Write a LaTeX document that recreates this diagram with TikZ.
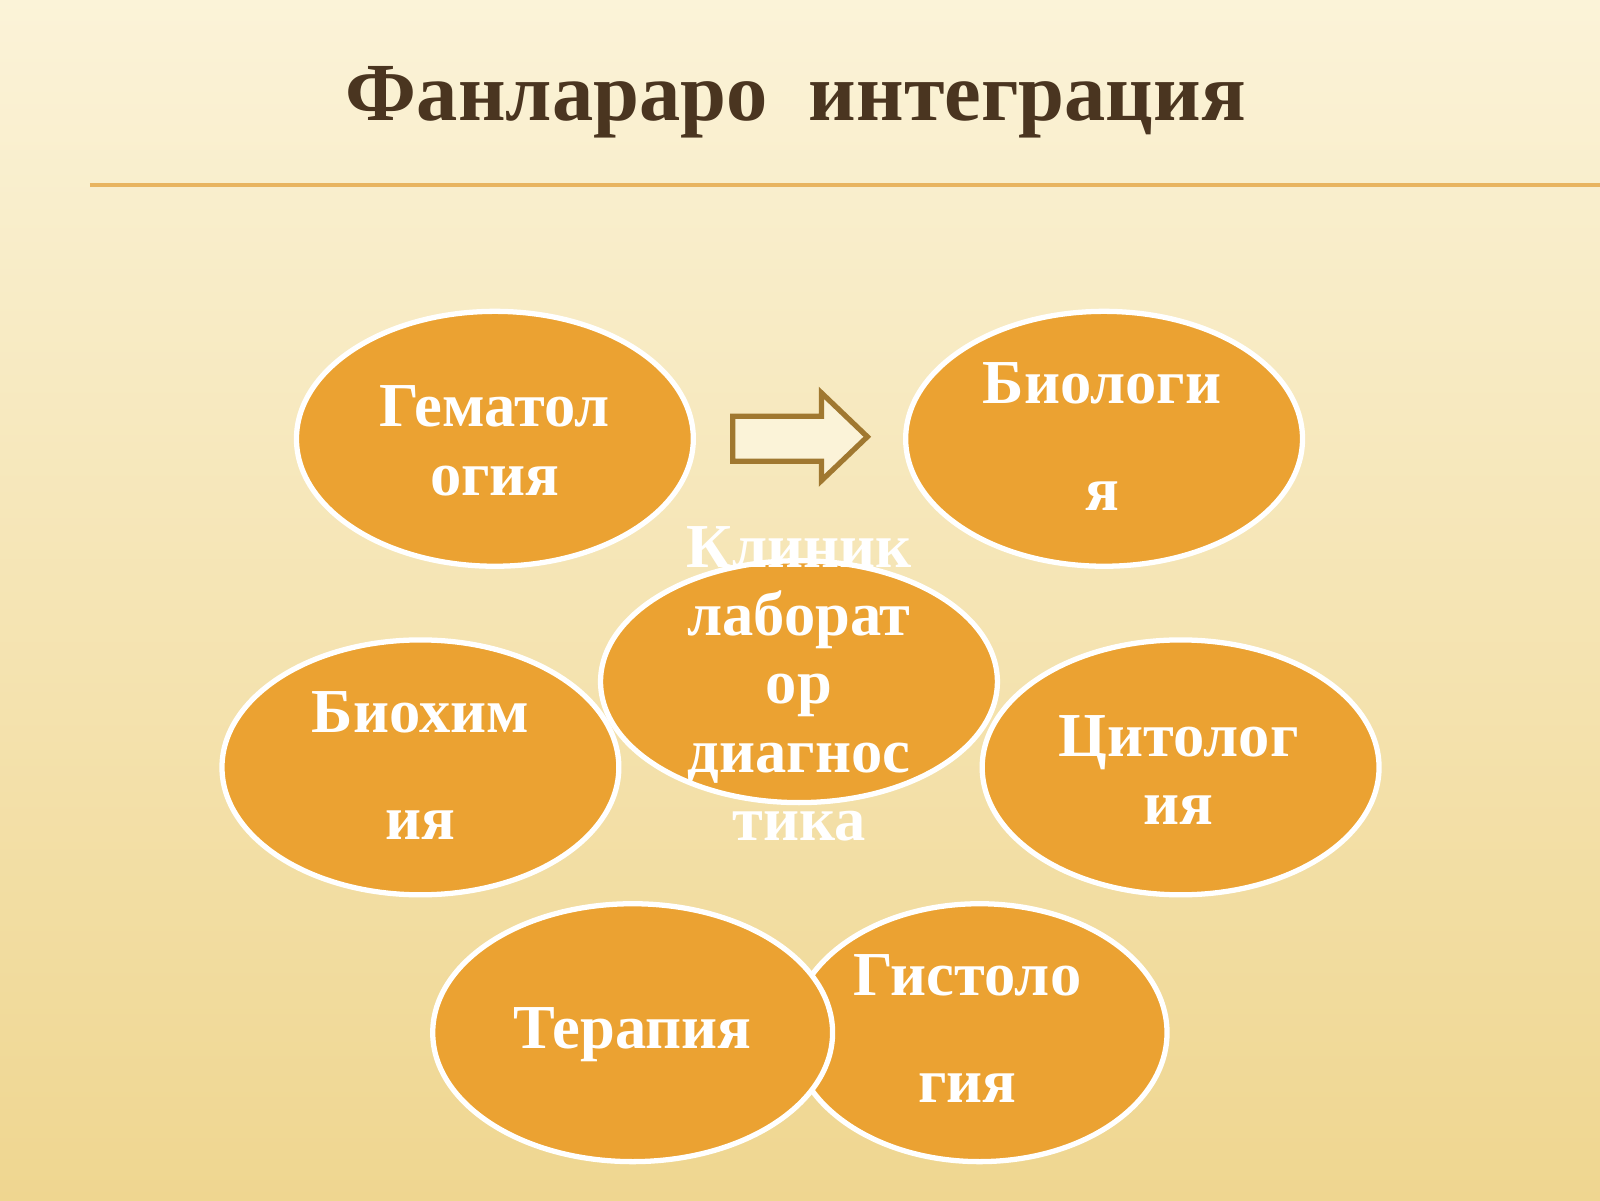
\documentclass[tikz,border=0pt]{standalone}
\usepackage{fontspec}
\setmainfont{Liberation Serif}
\usetikzlibrary{shapes.geometric}
\definecolor{bgtop}{HTML}{FBF3D8}
\definecolor{bgbot}{HTML}{EFD690}
\definecolor{orng}{HTML}{EBA232}
\definecolor{ttl}{HTML}{4A3520}
\definecolor{ln}{HTML}{E8B460}
\definecolor{arr}{HTML}{A07830}
\begin{document}
\begin{tikzpicture}[x=0.010204cm,y=-0.010204cm,
  el/.style={ellipse,fill=orng,draw=white,line width=1.5pt,inner sep=0pt},
  tx/.style={text=white,font=\bfseries\fontsize{17.8}{19.4}\selectfont,align=center}]
\useasboundingbox (0,0) rectangle (1568,1176);
\shade[top color=bgtop,bottom color=bgbot] (0,0) rectangle (1568,1176);
\node[text=ttl,font=\bfseries\fontsize{23.5}{28}\selectfont] (title) at (780,100) {Фанлараро\ \ интеграция};
\coordinate (l1) at (88,181); \coordinate (l2) at (1568,181);
\draw[ln,line width=1.2pt] (l1) -- (l2);
\path (485,430) node[el,minimum width=3.97cm,minimum height=2.55cm] (gem) {};
\node[tx] at (485,432) {Гематол\\огия};
\path (1082,430) node[el,minimum width=3.97cm,minimum height=2.55cm] (bio) {};
\node[tx] at (1080,428) {Биологи\\[11pt]я};
\coordinate (a1) at (718,408); \coordinate (a2) at (805,408); \coordinate (a3) at (805,385);
\coordinate (a4) at (850,428); \coordinate (a5) at (805,471); \coordinate (a6) at (805,452);
\coordinate (a7) at (718,452);
\draw[arr,fill=bgtop,line width=1.5pt,line join=miter] (a1) -- (a2) -- (a3) -- (a4) -- (a5) -- (a6) -- (a7) -- cycle;
\path (783,668) node[el,minimum width=3.97cm,minimum height=2.42cm] (cl) {};
\path (412,752) node[el,minimum width=3.97cm,minimum height=2.55cm] (bh) {};
\node[tx] at (412,750) {Биохим\\[11pt]ия};
\path (1157,752) node[el,minimum width=3.97cm,minimum height=2.55cm] (cy) {};
\node[tx] at (1155,755) {Цитолог\\ия};
\path (960,1012) node[el,minimum width=3.75cm,minimum height=2.58cm] (gi) {};
\node[tx] at (948,1008) {Гистоло\\[11pt]гия};
\path (620,1012) node[el,minimum width=4cm,minimum height=2.58cm] (te) {};
\node[tx] at (620,1014) {Терапия};
\node[tx] at (783,670) {Клиник\\лаборат\\ор\\диагнос\\тика};
\end{tikzpicture}
\end{document}
